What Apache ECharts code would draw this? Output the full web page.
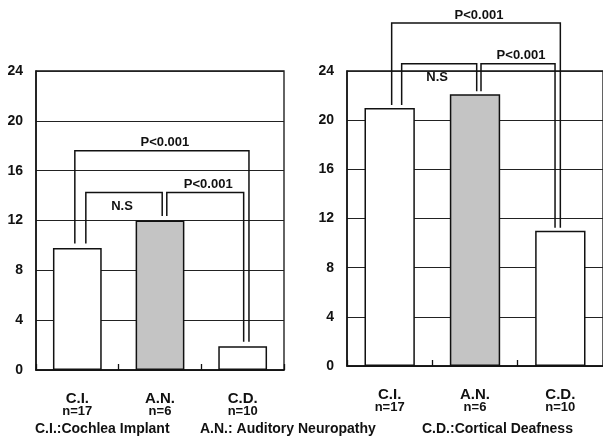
<!DOCTYPE html>
<html>
<head>
<meta charset="utf-8">
<script src="https://cdn.jsdelivr.net/npm/echarts@6/dist/echarts.min.js"></script>
<style>
  html, body { margin: 0; padding: 0; background: #fff; }
  #chart { width: 603px; height: 445px; }
</style>
</head>
<body>
<div id="chart"></div>
<script>
// Groups and their sizes
const categories = ['C.I.', 'A.N.', 'C.D.'];
const groupSizes = [17, 6, 10];

// Bar heights for the two panels
const leftValues = [9.8, 12, 1.9];
const rightValues = [21, 22.1, 11];

// Y axis ticks
const yMin = 0;
const yMax = 24;
const yStep = 4;

// Significance comparisons: [fromGroup, toGroup, bracketLevel, label]
const leftBrackets = [
  [0, 2, 17.6, 'P<0.001'],
  [0, 1, 14.25, 'N.S'],
  [1, 2, 14.25, 'P<0.001']
];
const rightBrackets = [
  [0, 2, 27.9, 'P<0.001'],
  [0, 1, 24.6, 'N.S'],
  [1, 2, 24.6, 'P<0.001']
];

// Legend of abbreviations along the bottom
const captions = ['C.I.:Cochlea Implant', 'A.N.: Auditory Neuropathy', 'C.D.:Cortical Deafness'];

// ---- drawing layout ----
const FONT = '"Liberation Sans", Arial, sans-serif';
const INK = '#111';
const barColors = ['#ffffff', '#c4c4c4', '#ffffff'];

// horizontal pixel nudges of each bracket's two legs from the bar centres
const leftLegNudge = [[-2.5, 6.3], [8.5, 2.2], [6.8, 1]];
const rightLegNudge = [[2, 0], [12, 1.7], [6, -5.3]];

function makeBracketSeries(gridIdx, brackets, values, nudges, gap) {
  return {
    type: 'custom',
    xAxisIndex: gridIdx,
    yAxisIndex: gridIdx,
    clip: false,
    silent: true,
    z: 5,
    data: brackets.map((b) => [b[0], b[2]]),
    renderItem: function (params, api) {
      const b = brackets[params.dataIndex];
      const n = nudges[params.dataIndex];
      const from = b[0], to = b[1], level = b[2], label = b[3];
      const pFrom = api.coord([from, values[from]]);
      const pTo = api.coord([to, values[to]]);
      const top = api.coord([from, level])[1];
      const x1 = pFrom[0] + n[0];
      const x2 = pTo[0] + n[1];
      const below = label === 'N.S';
      const cx = (x1 + x2) / 2 + (below ? -2 : 3);
      return {
        type: 'group',
        children: [
          {
            type: 'polyline',
            shape: { points: [[x1, pFrom[1] - gap], [x1, top], [x2, top], [x2, pTo[1] - gap]] },
            style: { stroke: INK, lineWidth: 1.5, fill: null }
          },
          {
            type: 'text',
            style: {
              text: label,
              x: cx,
              y: below ? top + 7 : top - 1.5,
              align: 'center',
              verticalAlign: below ? 'top' : 'bottom',
              textAlign: 'center',
              textVerticalAlign: below ? 'top' : 'bottom',
              font: 'bold 13px ' + FONT,
              fill: INK
            }
          }
        ]
      };
    }
  };
}

function xAxisFor(gridIdx) {
  return {
    type: 'category',
    gridIndex: gridIdx,
    data: categories,
    boundaryGap: true,
    axisLine: { show: true, lineStyle: { color: INK, width: 1.5 } },
    axisTick: { show: true, inside: true, length: 6, lineStyle: { color: INK, width: 1.3 } },
    axisLabel: {
      margin: 22,
      formatter: function (v, i) {
        return '{a|' + v + '}\n{b|n=' + groupSizes[i] + '}';
      },
      rich: {
        a: { fontFamily: FONT, fontWeight: 'bold', fontSize: 15, lineHeight: 13, color: INK },
        b: { fontFamily: FONT, fontWeight: 'bold', fontSize: 13, lineHeight: 12, color: INK }
      }
    },
    splitLine: { show: false }
  };
}

function yAxisFor(gridIdx) {
  return {
    type: 'value',
    gridIndex: gridIdx,
    min: yMin,
    max: yMax,
    interval: yStep,
    axisLine: { show: true, lineStyle: { color: INK, width: 1.5 } },
    axisTick: { show: false },
    axisLabel: { margin: 13, fontFamily: FONT, fontWeight: 'bold', fontSize: 14, color: INK },
    splitLine: { show: true, lineStyle: { color: '#222', width: 1.2 } }
  };
}

function barSeries(gridIdx, values) {
  return {
    type: 'bar',
    xAxisIndex: gridIdx,
    yAxisIndex: gridIdx,
    barWidth: '59%',
    z: 3,
    silent: true,
    data: values.map((v, i) => ({
      value: v,
      itemStyle: { color: barColors[i], borderColor: INK, borderWidth: 1.5 }
    }))
  };
}

const chart = echarts.init(document.getElementById('chart'), null, { renderer: 'canvas' });

chart.setOption({
  animation: false,
  backgroundColor: '#fff',
  grid: [
    { left: 36, top: 71, width: 248, height: 299, show: true, borderColor: INK, borderWidth: 1.3, containLabel: false },
    { left: 347, top: 71, width: 264, height: 295, show: true, borderColor: INK, borderWidth: 1.3, containLabel: false }
  ],
  xAxis: [xAxisFor(0), xAxisFor(1)],
  yAxis: [yAxisFor(0), yAxisFor(1)],
  series: [
    barSeries(0, leftValues),
    barSeries(1, rightValues),
    makeBracketSeries(0, leftBrackets, leftValues, leftLegNudge, 4.5),
    makeBracketSeries(1, rightBrackets, rightValues, rightLegNudge, 3)
  ],
  graphic: captions.map((t, i) => ({
    type: 'text',
    left: [35, 200, 422][i],
    top: 422,
    style: { text: t, font: 'bold 14px ' + FONT, fill: INK }
  }))
});
</script>
</body>
</html>
